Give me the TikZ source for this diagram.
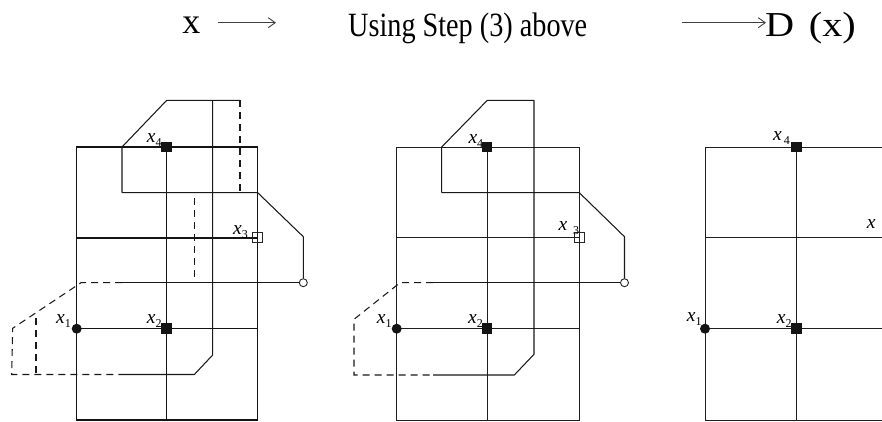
\documentclass[tikz,border=0pt]{standalone}
\usepackage{fontspec}
\setmainfont{Liberation Serif}
\usetikzlibrary{arrows.meta}
\newcommand{\xl}[2][0pt]{{\fontsize{19.5}{19.5}\selectfont\itshape x}\hspace{#1}\raisebox{-4pt}{\fontsize{12}{12}\selectfont #2}}
\tikzset{
  gridA/.style={line width=1.4pt, draw=black!92},
  gridB/.style={line width=1pt, draw=black!88},
  pathline/.style={line width=1.05pt, draw=black!90, line join=round},
  dashline/.style={line width=1.05pt, draw=black!90, dash pattern=on 7pt off 5pt},
  fsq/.style={rectangle, fill=black!92, minimum size=10.5pt, inner sep=0pt},
  fci/.style={circle, fill=black!92, minimum size=10pt, inner sep=0pt},
  osq/.style={rectangle, draw=black!85, line width=0.9pt, minimum size=10pt, inner sep=0pt},
  oci/.style={circle, draw=black!85, line width=0.9pt, minimum size=8pt, inner sep=0pt},
  lab/.style={anchor=base west, inner sep=0pt},
  ttl/.style={anchor=base west, inner sep=0pt},
  tarrow/.style={line width=0.9pt, draw=black!75, -{Straight Barb[length=7pt,width=10pt]}}
}
\begin{document}
\begin{tikzpicture}[x=1pt,y=-1pt]
\useasboundingbox (0,0) rectangle (882,421);
\fill[white] (0,0) rectangle (882,421);
\clip (0,0) rectangle (882,421);

% ---------- title ----------
\node[ttl] (tx) at (182.2,33.3) {\fontsize{36}{36}\selectfont x};
\node[ttl] (tus) at (348,36) {\scalebox{0.83}[1]{\fontsize{34}{34}\selectfont Using Step (3) above}};
\node[ttl] (tdx) at (765,36.7) {\scalebox{1.15}[1]{\fontsize{35}{35}\selectfont D\hspace{4pt} (x)}};
\coordinate (a1s) at (218,22.7);
\coordinate (a1e) at (276,22.7);
\coordinate (a2s) at (682,22.7);
\coordinate (a2e) at (766,22.7);
\draw[tarrow] (a1s) -- (a1e);
\draw[tarrow] (a2s) -- (a2e);

% ---------- panel 1 ----------
\draw[gridA] (76.7,147) rectangle (257.7,420);
\draw[gridA] (166.7,147) -- (166.7,420);
\draw[gridA, line width=1.9pt] (76.7,237.7) -- (257.7,237.7);
\draw[gridA] (76.7,328.7) -- (257.7,328.7);

\node[oci] (c1) at (303.3,282.7) {};
\draw[pathline] (122,192.7) -- (122,147) -- (166.7,100.3) -- (240,100.3);
\draw[pathline] (122,192.7) -- (257.7,192.7) -- (303.3,236.7) -- (c1);
\draw[pathline] (212.7,100.3) -- (212.7,355) -- (194.3,374.5) -- (122,374.5);
\draw[pathline] (122,282.7) -- (c1);
\draw[dashline] (240,100.3) -- (240,192.7);
\draw[dashline] (194.3,198.3) -- (194.3,282.7);
\draw[dashline] (122,282.7) -- (81,282.7) -- (12.7,328.3) -- (11.7,374.5) -- (122,374.5);
\draw[dashline] (36,318) -- (36,374.5);

\node[fsq] (p1x4) at (166.7,147) {};
\node[fsq] (p1x2) at (166.7,328.7) {};
\node[fci] (p1x1) at (76.7,328.7) {};
\node[osq] (p1x3) at (257.7,237.7) {};
\node[lab] (l1x4) at (146.7,142.7) {\xl{4}};
\node[lab] (l1x3) at (233,234) {\xl{3}};
\node[lab] (l1x2) at (146.7,323) {\xl{2}};
\node[lab] (l1x1) at (56,323) {\xl{1}};

% ---------- panel 2 ----------
\draw[gridB] (396.7,147) rectangle (579.3,420);
\draw[gridB] (487,147) -- (487,420);
\draw[gridB] (396.7,237.7) -- (579.3,237.7);
\draw[gridB] (396.7,328.7) -- (579.3,328.7);

\node[oci] (c2) at (624.5,282.7) {};
\draw[pathline] (441.7,192.7) -- (441.7,147) -- (487.3,100.3) -- (534,100.3) -- (534,354.3) -- (514.3,375) -- (433,375);
\draw[pathline] (441.7,192.7) -- (579.3,192.7) -- (624.5,236.7) -- (c2);
\draw[pathline] (433,282.7) -- (c2);
\draw[dashline] (433,282.7) -- (400,282.7) -- (354,319.3) -- (354,375) -- (433,375);

\node[fsq] (p2x4) at (487,147) {};
\node[fsq] (p2x2) at (487,328.7) {};
\node[fci] (p2x1) at (396.7,328.7) {};
\node[osq] (p2x3) at (579.3,237.7) {};
\node[lab] (l2x4) at (468.3,143) {\xl{4}};
\node[lab] (l2x3) at (558.3,230) {\xl[6pt]{3}};
\node[lab] (l2x2) at (468,323) {\xl{2}};
\node[lab] (l2x1) at (376.7,323) {\xl{1}};

% ---------- panel 3 ----------
\draw[gridB] (705,147) -- (900,147);
\draw[gridB] (705,237.7) -- (900,237.7);
\draw[gridB] (705,328.7) -- (900,328.7);
\draw[gridB] (705,420) -- (900,420);
\draw[gridB] (705,147) -- (705,420);
\draw[gridB] (796.7,147) -- (796.7,420);

\node[fsq] (p3x4) at (796.7,147) {};
\node[fsq] (p3x2) at (796.7,328.7) {};
\node[fci] (p3x1) at (705,328.7) {};
\node[lab] (l3x4) at (773,140.7) {\xl[2pt]{4}};
\node[lab] (l3x3) at (866.7,228.3) {\xl[6pt]{3}};
\node[lab] (l3x2) at (776.7,323) {\xl{2}};
\node[lab] (l3x1) at (686.7,321.7) {\xl{1}};
\end{tikzpicture}
\end{document}
